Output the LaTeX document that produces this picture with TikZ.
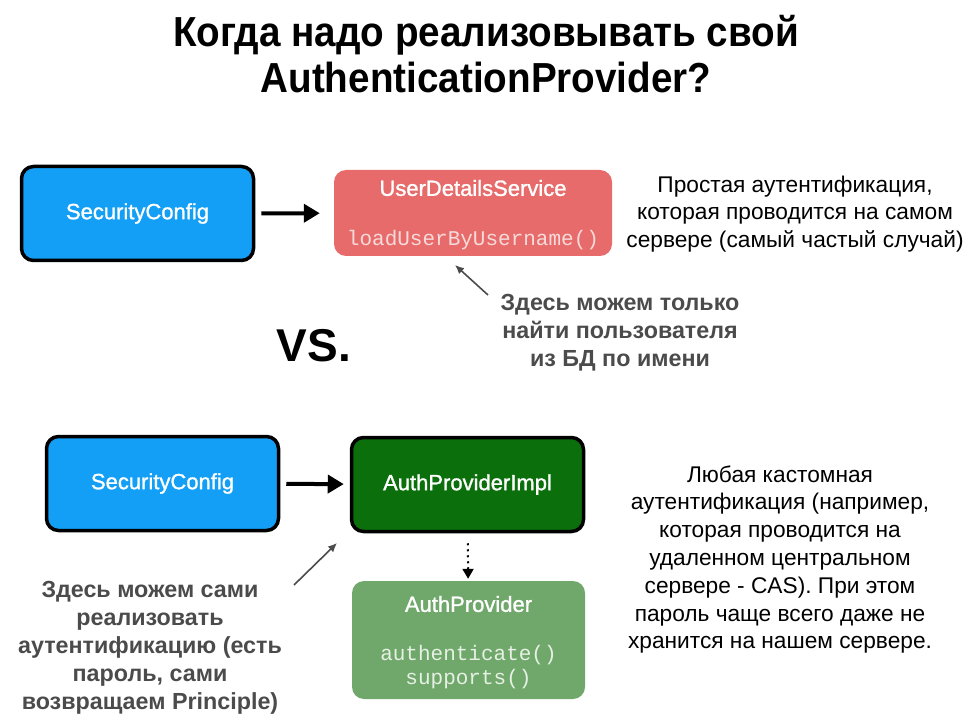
\documentclass[tikz,border=0pt]{standalone}
\usepackage{fontspec}
\setmainfont{Liberation Sans}
\setmonofont{Liberation Mono}
\newfontfamily\titlefont[FakeStretch=0.92]{Liberation Sans}
\newfontfamily\boxfont[FakeBold=1.2]{Liberation Sans}
\usepackage{tikz}
\usetikzlibrary{arrows.meta,positioning}
\definecolor{cfgblue}{RGB}{18,159,245}
\definecolor{udsred}{RGB}{232,107,107}
\definecolor{impgreen}{RGB}{11,111,11}
\definecolor{apgreen}{RGB}{112,168,107}
\definecolor{notegray}{RGB}{75,75,75}
\definecolor{udsmono}{RGB}{247,218,218}
\definecolor{apmono}{RGB}{230,240,228}

\begin{document}
\begin{tikzpicture}[x=1pt,y=-1pt,>=latex]
\tikzstyle{cls}=[draw=black,line width=3.5pt,rounded corners=12pt,minimum width=232pt,minimum height=94pt,text=white,font=\boxfont\fontsize{22}{26}\selectfont]
\tikzstyle{iface}=[rounded corners=12pt,inner sep=0pt]
\tikzstyle{ttl}=[text=white,font=\boxfont\fontsize{22}{26}\selectfont]
\tikzstyle{code}=[font=\ttfamily\fontsize{21}{24.5}\selectfont,align=center]
\tikzstyle{txt}=[align=center,font=\fontsize{22.7}{27.8}\selectfont]
\tikzstyle{note}=[align=center,text=notegray,font=\bfseries\fontsize{23.3}{28}\selectfont]
\tikzstyle{pass}=[-{Triangle[length=16pt,width=18pt]},line width=4pt]
\tikzstyle{impl}=[-{Triangle[length=10pt,width=11pt]},line width=2pt,dash pattern=on 2pt off 4pt]
\tikzstyle{hint}=[-{Latex[length=9pt,width=8pt]},line width=1.6pt,notegray]
\useasboundingbox (0,0) rectangle (972,722);
% title
\node[align=center,font=\titlefont\bfseries\fontsize{42}{46}\selectfont] (title) at (486,54) {Когда надо реализовывать свой\\AuthenticationProvider?};
% top: UserDetailsService
\node[cls,fill=cfgblue] (sc1) at (137.5,213.5) {SecurityConfig};
\node[iface,fill=udsred,minimum width=278pt,minimum height=86pt] (uds) at (473,213) {};
\node[ttl] (udsname) at (473,188) {UserDetailsService};
\node[code,text=udsmono] (udsops) at (473,240) {loadUserByUsername()};
\draw[pass,shorten <=6pt,shorten >=14pt] (sc1) -- (uds);
\node[txt] (udstxt) at (795,214) {Простая аутентификация,\\которая проводится на самом\\сервере (самый частый случай)};
\node[note] (udsnote) at (620,333) {Здесь можем только\\найти пользователя\\из БД по имени};
\coordinate (udsfrom) at (488,295);
\coordinate (udsto) at (455,265);
\draw[hint] (udsfrom) -- (udsto);
\node[font=\bfseries\fontsize{46}{50}\selectfont] (vs) at (314,346) {VS.};
% bottom: own AuthenticationProvider
\node[cls,fill=cfgblue] (sc2) at (162.5,483.5) {SecurityConfig};
\node[cls,fill=impgreen] (api) at (467.5,484.5) {AuthProviderImpl};
\draw[pass,shorten <=6pt,shorten >=6pt] (sc2) -- (api);
\node[iface,fill=apgreen,minimum width=233pt,minimum height=118pt] (ap) at (468.5,640) {};
\node[ttl] (apname) at (468.5,604) {AuthProvider};
\node[code,text=apmono] (apops) at (468.5,667) {authenticate()\\supports()};
\draw[impl,shorten <=10pt,shorten >=2pt] (api) -- (ap);
\coordinate (apifrom) at (294,585);
\coordinate (apito) at (337,543);
\draw[hint] (apifrom) -- (apito);
\node[note] (apinote) at (150,648) {Здесь можем сами\\реализовать\\аутентификацию (есть\\пароль, сами\\возвращаем Principle)};
\node[txt] (apitxt) at (780,559.5) {Любая кастомная\\аутентификация (например,\\которая проводится на\\удаленном центральном\\сервере - CAS). При этом\\пароль чаще всего даже не\\хранится на нашем сервере.};
\end{tikzpicture}
\end{document}
